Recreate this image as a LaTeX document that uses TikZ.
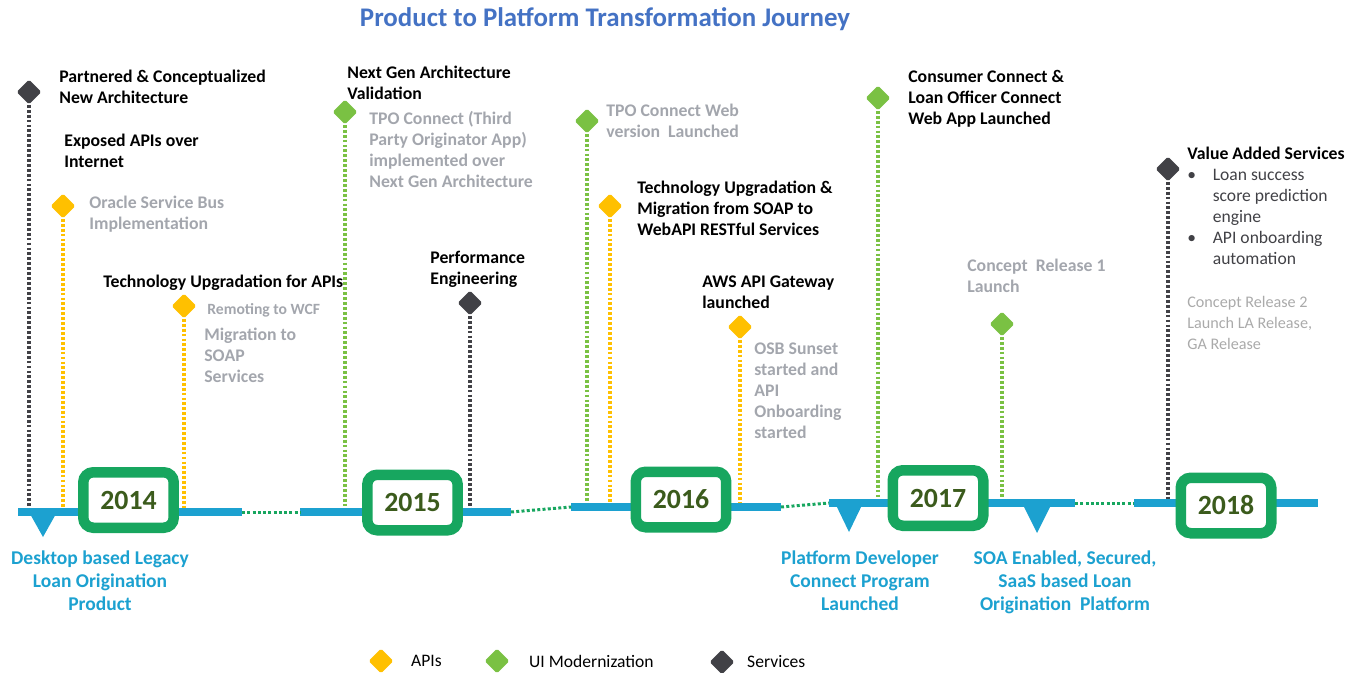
\documentclass[tikz,border=0pt]{standalone}
\usepackage{fontspec}
\setmainfont{Carlito}
\usetikzlibrary{positioning,shapes.geometric}

\definecolor{tlblue}{HTML}{1CA1D0}
\definecolor{boxgreen}{HTML}{17A65F}
\definecolor{yeargreen}{HTML}{3B5B1C}
\definecolor{apiyellow}{HTML}{FFC000}
\definecolor{uigreen}{HTML}{7AC143}
\definecolor{servdark}{HTML}{414146}
\definecolor{notegray}{HTML}{A3A6AD}
\definecolor{lightgray}{HTML}{AAAAAA}
\definecolor{titleblue}{HTML}{4472C4}

\tikzset{
  dia/.style={diamond, minimum size=0.5cm, inner sep=0pt, rounded corners=1pt},
  apidia/.style={dia, fill=apiyellow},
  uidia/.style={dia, fill=uigreen},
  servdia/.style={dia, fill=servdark},
  stem/.style={line width=1.8pt, dash pattern=on 1.6pt off 1.2pt},
  apiline/.style={stem, draw=apiyellow},
  uiline/.style={stem, draw=uigreen},
  servline/.style={stem, draw=servdark},
  gapline/.style={line width=1.7pt, dash pattern=on 1.7pt off 1.3pt, draw=boxgreen},
  bar/.style={line width=4pt, draw=tlblue},
  yearbox/.style={draw=boxgreen, fill=white, line width=0.21cm, rounded corners=0.2cm,
                  minimum width=1.81cm, minimum height=1.11cm, inner sep=0pt,
                  font=\bfseries\fontsize{15.8}{18}\selectfont, text=yeargreen},
  lbl/.style={anchor=base west, align=left, inner sep=0pt,
              font=\bfseries\fontsize{10.1}{11.9}\selectfont},
  note/.style={lbl, text=notegray},
  milestone/.style={anchor=base, align=center, inner sep=0pt, text=tlblue,
                    font=\bfseries\fontsize{11.1}{13}\selectfont},
  legend/.style={anchor=west, inner sep=0pt, font=\fontsize{10}{12}\selectfont}
}

\begin{document}
\begin{tikzpicture}[x=0.02cm, y=-0.02cm]
    \useasboundingbox (0,0) rectangle (1363,673);

    % Title
    \node[font=\bfseries\fontsize{15.3}{18}\selectfont, text=titleblue] (title) at (605,19)
        {Product to Platform Transformation Journey};

    % Markers with dotted stems down to the timeline
    \foreach \n/\x/\y/\kind/\b in {1/29/92/serv/512, 2/63/206/api/512, 3/184/306/api/512,
                                   4/345/112/ui/512, 5/470/303/serv/512, 6/587/121/ui/507,
                                   7/610/206/api/507, 8/740/327/api/507, 9/878/98/ui/503,
                                   10/1002/324/ui/503, 11/1168/169/serv/503} {
        \node[\kind dia] (m\n) at (\x,\y) {};
        \coordinate (e\n) at (\x,\b);
        \draw[\kind line] (m\n) -- (e\n);
    }

    % Timeline segments and dotted gaps
    \foreach \s/\xa/\xb/\y in {14/18/242/512, 15/300/511/512, 16/571/781/507,
                               17/829/1075/503, 18/1134/1318/503} {
        \coordinate (s\s a) at (\xa,\y);
        \coordinate (s\s b) at (\xb,\y);
        \draw[bar] (s\s a) -- (s\s b);
    }
    \draw[gapline] (s14b) -- (s15a);
    \draw[gapline] (s15b) -- (s16a);
    \draw[gapline] (s16b) -- (s17a);
    \draw[gapline] (s17b) -- (s18a);

    % Pointers under the line
    \fill[tlblue] (29,512) -- (57,512) -- (43,537) -- cycle;
    \fill[tlblue] (835,503) -- (863,503) -- (849,532) -- cycle;
    \fill[tlblue] (1022,503) -- (1052,503) -- (1037,533) -- cycle;

    % Year boxes
    \foreach \yr/\x/\y in {2014/128.5/500, 2015/412.5/502.5, 2016/681/499.5,
                           2017/938/498, 2018/1226/505.5} {
        \node[yearbox] (y\yr) at (\x,\y) {\yr};
    }

    % Labels above the line (anchored at the baseline of the last line)
    \node[lbl] (t1) at (59,103) {Partnered \& Conceptualized\\New Architecture};
    \node[lbl] (t2) at (64,167) {Exposed APIs over\\Internet};
    \node[note] (t3) at (89,229) {Oracle Service Bus\\Implementation};
    \node[lbl] (t4) at (103,287) {Technology Upgradation for APIs};
    \node[note, font=\bfseries\fontsize{8.9}{10}\selectfont] (t5) at (207,314) {Remoting to WCF};
    \node[note] (t6) at (204,382) {Migration to\\SOAP\\Services};
    \node[lbl] (t7) at (347,99) {Next Gen Architecture\\Validation};
    \node[note] (t8) at (369,187) {TPO Connect (Third\\Party Originator App)\\implemented over\\Next Gen Architecture};
    \node[lbl] (t9) at (430,284) {Performance\\Engineering};
    \node[note] (t10) at (606,137) {TPO Connect Web\\version~ Launched};
    \node[lbl] (t11) at (637,235) {Technology Upgradation \&\\Migration from SOAP to\\WebAPI RESTful Services};
    \node[lbl] (t12) at (702,308) {AWS API Gateway\\launched};
    \node[note] (t13) at (754,438) {OSB Sunset\\started and\\API\\Onboarding\\started};
    \node[lbl] (t14) at (908,124) {Consumer Connect \&\\Loan Officer Connect\\Web App Launched};
    \node[note] (t15) at (967,292) {Concept~ Release 1\\Launch};
    \node[lbl] (t16) at (1187,159) {Value Added Services};
    \node[lbl, font=\fontsize{10}{11.9}\selectfont, text=servdark] (t17) at (1187,264)
        {\makebox[14.5pt][l]{\textbullet}Loan success\\
         \hspace*{14.5pt}score prediction\\
         \hspace*{14.5pt}engine\\
         \makebox[14.5pt][l]{\textbullet}API onboarding\\
         \hspace*{14.5pt}automation};
    \node[lbl, font=\fontsize{9.2}{11.9}\selectfont, text=lightgray] (t18) at (1187,349)
        {Concept Release 2\\Launch LA Release,\\GA Release};

    % Milestones below the line
    \node[milestone] (b1) at (100,610) {Desktop based Legacy\\Loan Origination\\Product};
    \node[milestone] (b2) at (860,610) {Platform Developer\\Connect Program\\Launched};
    \node[milestone] (b3) at (1065,610) {SOA Enabled, Secured,\\SaaS based Loan\\Origination~ Platform};

    % Legend
    \node[apidia] (k1) at (381,661) {};
    \node[legend, right=17 of k1] (k1t) {APIs};
    \node[uidia] (k2) at (497,661) {};
    \node[legend, right=19 of k2] (k2t) {UI Modernization};
    \node[servdia] (k3) at (722,662) {};
    \node[legend, right=12 of k3] (k3t) {Services};
\end{tikzpicture}
\end{document}
